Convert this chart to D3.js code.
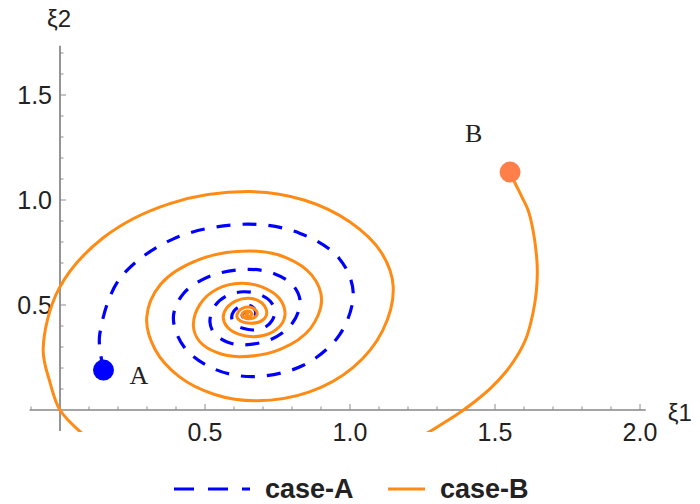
<!DOCTYPE html>
<html>
<head>
<meta charset="utf-8">
<script src="https://cdn.jsdelivr.net/npm/d3@7"></script>
<style>
  html, body { margin: 0; padding: 0; background: #fff; }
  svg { display: block; }
</style>
</head>
<body>
<svg id="chart" width="700" height="504"></svg>
<script>
// Phase-plane trajectories (ξ1, ξ2) for two initial states, both spiralling
// clockwise into the same equilibrium.

// case-A trajectory, starting at point A
const caseA = [
  [0.150, 0.190], [0.140, 0.270], [0.137, 0.360], [0.205, 0.623], [0.391, 0.815],
  [0.645, 0.885], [0.828, 0.841], [0.962, 0.723], [1.011, 0.560], [0.965, 0.360],
  [0.839, 0.213], [0.667, 0.159], [0.529, 0.197], [0.428, 0.300], [0.391, 0.440],
  [0.426, 0.555], [0.520, 0.639], [0.650, 0.670], [0.739, 0.649], [0.804, 0.593],
  [0.828, 0.515], [0.801, 0.413], [0.729, 0.337], [0.630, 0.310], [0.574, 0.325],
  [0.532, 0.365], [0.517, 0.420], [0.532, 0.492], [0.575, 0.544], [0.632, 0.563],
  [0.687, 0.551], [0.726, 0.517], [0.741, 0.470], [0.731, 0.426], [0.706, 0.393],
  [0.670, 0.381], [0.631, 0.389], [0.602, 0.410], [0.592, 0.440], [0.599, 0.470],
  [0.618, 0.492], [0.644, 0.500], [0.660, 0.495], [0.671, 0.480], [0.675, 0.460],
  [0.672, 0.448], [0.662, 0.438], [0.650, 0.435], [0.639, 0.437], [0.631, 0.443],
  [0.628, 0.452], [0.633, 0.462], [0.642, 0.466]
];

// case-B trajectory, first leg: from point B down across the ξ1 axis
const caseBLeg1 = [
  [1.552, 1.133], [1.569, 1.081], [1.593, 1.014], [1.614, 0.952], [1.631, 0.857],
  [1.643, 0.738], [1.646, 0.657], [1.642, 0.557], [1.631, 0.462], [1.609, 0.348],
  [1.576, 0.257], [1.534, 0.176], [1.486, 0.105], [1.434, 0.044], [1.383, -0.008],
  [1.328, -0.057], [1.272, -0.105], [1.217, -0.148]
];

// case-B trajectory, second leg: re-entering near the origin and spiralling in
const caseBLeg2 = [
  [0.075, -0.110], [0.000, 0.000], [-0.034, 0.129], [-0.058, 0.290], [-0.004, 0.577],
  [0.149, 0.820], [0.379, 0.983], [0.650, 1.040], [0.841, 1.000], [1.000, 0.895],
  [1.108, 0.750], [1.149, 0.587], [1.113, 0.379], [1.011, 0.203], [0.858, 0.085],
  [0.678, 0.044], [0.533, 0.074], [0.410, 0.160], [0.328, 0.288], [0.299, 0.440],
  [0.347, 0.599], [0.477, 0.715], [0.655, 0.757], [0.779, 0.726], [0.869, 0.641],
  [0.902, 0.524], [0.864, 0.389], [0.761, 0.290], [0.620, 0.254], [0.540, 0.274],
  [0.481, 0.327], [0.460, 0.400], [0.482, 0.502], [0.542, 0.576], [0.625, 0.603],
  [0.700, 0.584], [0.756, 0.532], [0.776, 0.460], [0.762, 0.405], [0.722, 0.364],
  [0.668, 0.349], [0.616, 0.361], [0.577, 0.395], [0.563, 0.440], [0.575, 0.486],
  [0.607, 0.520], [0.650, 0.532], [0.682, 0.522], [0.705, 0.496], [0.713, 0.460],
  [0.706, 0.437], [0.687, 0.419], [0.660, 0.413], [0.635, 0.417], [0.617, 0.429],
  [0.610, 0.445], [0.615, 0.468], [0.629, 0.484], [0.648, 0.490], [0.664, 0.486],
  [0.676, 0.474], [0.680, 0.458], [0.676, 0.447], [0.666, 0.438], [0.652, 0.435],
  [0.640, 0.437], [0.631, 0.444], [0.628, 0.452], [0.631, 0.462], [0.638, 0.469],
  [0.647, 0.472], [0.655, 0.469], [0.660, 0.463], [0.662, 0.456], [0.657, 0.449],
  [0.648, 0.447], [0.641, 0.452], [0.645, 0.459], [0.651, 0.456]
];

// initial states
const startPoints = [
  { name: "A", x: 0.150, y: 0.190, color: "#0000ff", dx: 26, dy: 14 },
  { name: "B", x: 1.552, y: 1.133, color: "#ff7f4a", dx: -45, dy: -30 }
];

// axis ticks
const xMajorTicks = [0.5, 1.0, 1.5, 2.0];
const yMajorTicks = [0.5, 1.0, 1.5];
const xMinorTicks = [-0.1, 0.1, 0.2, 0.3, 0.4, 0.6, 0.7, 0.8, 0.9, 1.1, 1.2, 1.3, 1.4, 1.6, 1.7, 1.8, 1.9];
const yMinorTicks = [0.1, 0.2, 0.3, 0.4, 0.6, 0.7, 0.8, 0.9, 1.1, 1.2, 1.3, 1.4, 1.6, 1.7];
const xExtent = [-0.105, 2.02];
const yExtent = [-0.1, 1.735];

const legendItems = [
  { label: "case-A", color: "#0000ff" },
  { label: "case-B", color: "#ff8a14" }
];

const svg = d3.select("#chart");
const x = d3.scaleLinear().domain([0, 2]).range([60, 640]);
const y = d3.scaleLinear().domain([0, 1.5]).range([410, 95]);
const fmt = d3.format(".1f");

const blue = "#0000ff", orange = "#ff8a14";
const sans = "Liberation Sans, Arial, sans-serif";

// clip trajectories to the plot range
svg.append("clipPath").attr("id", "plotclip")
  .append("rect")
  .attr("x", x(xExtent[0]) - 20).attr("y", y(yExtent[1]))
  .attr("width", x(xExtent[1]) - x(xExtent[0]) + 40)
  .attr("height", y(yExtent[0]) - y(yExtent[1]) + 1);

// axes
const axes = svg.append("g");
axes.append("line")
  .attr("x1", x(xExtent[0])).attr("x2", x(xExtent[1]))
  .attr("y1", y(0)).attr("y2", y(0))
  .attr("stroke", "#4d4d4d").attr("stroke-width", 1.2);
axes.append("line")
  .attr("x1", x(0)).attr("x2", x(0))
  .attr("y1", y(yExtent[0])).attr("y2", y(yExtent[1]))
  .attr("stroke", "#4d4d4d").attr("stroke-width", 1.2);

// x ticks (pointing up into the plot)
axes.selectAll(".xmin").data(xMinorTicks).join("line")
  .attr("x1", d => x(d)).attr("x2", d => x(d))
  .attr("y1", y(0)).attr("y2", y(0) - 3.5)
  .attr("stroke", "#8c8c8c").attr("stroke-width", 1);
axes.selectAll(".xmaj").data(xMajorTicks).join("line")
  .attr("x1", d => x(d)).attr("x2", d => x(d))
  .attr("y1", y(0)).attr("y2", y(0) - 6)
  .attr("stroke", "#8c8c8c").attr("stroke-width", 1);
axes.selectAll(".xlab").data(xMajorTicks).join("text")
  .attr("x", d => x(d)).attr("y", y(0) + 31)
  .attr("text-anchor", "middle")
  .attr("font-family", sans).attr("font-size", 25).attr("fill", "#222")
  .text(d => fmt(d));

// y ticks (pointing right into the plot)
axes.selectAll(".ymin").data(yMinorTicks).join("line")
  .attr("x1", x(0)).attr("x2", x(0) + 3.5)
  .attr("y1", d => y(d)).attr("y2", d => y(d))
  .attr("stroke", "#8c8c8c").attr("stroke-width", 1);
axes.selectAll(".ymaj").data(yMajorTicks).join("line")
  .attr("x1", x(0)).attr("x2", x(0) + 6)
  .attr("y1", d => y(d)).attr("y2", d => y(d))
  .attr("stroke", "#8c8c8c").attr("stroke-width", 1);
axes.selectAll(".ylab").data(yMajorTicks).join("text")
  .attr("x", x(0) - 8).attr("y", d => y(d) + 9)
  .attr("text-anchor", "end")
  .attr("font-family", sans).attr("font-size", 25).attr("fill", "#222")
  .text(d => fmt(d));

// axis labels
axes.append("text")
  .attr("x", x(0) - 1).attr("y", 27)
  .attr("text-anchor", "middle")
  .attr("font-family", sans).attr("font-size", 24).attr("fill", "#222")
  .text("ξ2");
axes.append("text")
  .attr("x", x(xExtent[1]) + 22).attr("y", y(0) + 11)
  .attr("text-anchor", "start")
  .attr("font-family", sans).attr("font-size", 24).attr("fill", "#222")
  .text("ξ1");

// trajectories
const line = d3.line()
  .x(d => x(d[0])).y(d => y(d[1]))
  .curve(d3.curveCatmullRom.alpha(0.5));

const plot = svg.append("g").attr("clip-path", "url(#plotclip)");
plot.append("path").datum(caseA)
  .attr("d", line).attr("fill", "none")
  .attr("stroke", blue).attr("stroke-width", 3.2)
  .attr("stroke-dasharray", "14,12");
[caseBLeg1, caseBLeg2].forEach(seg => {
  plot.append("path").datum(seg)
    .attr("d", line).attr("fill", "none")
    .attr("stroke", orange).attr("stroke-width", 3)
    .attr("stroke-linejoin", "round");
});

// initial-state markers and labels
svg.selectAll(".start").data(startPoints).join("circle")
  .attr("cx", d => x(d.x)).attr("cy", d => y(d.y)).attr("r", 10.5)
  .attr("fill", d => d.color);
svg.selectAll(".startlab").data(startPoints).join("text")
  .attr("x", d => x(d.x) + d.dx)
  .attr("y", d => y(d.y) + d.dy)
  .attr("font-family", "Liberation Serif, Times New Roman, serif")
  .attr("font-size", 26).attr("fill", "#222")
  .text(d => d.name);

// legend
const legend = svg.append("g");
const legendY = 489;
legend.append("line")
  .attr("x1", 174).attr("x2", 250).attr("y1", legendY).attr("y2", legendY)
  .attr("stroke", legendItems[0].color).attr("stroke-width", 3)
  .attr("stroke-dasharray", "20,14");
legend.append("text")
  .attr("x", 265).attr("y", legendY + 9)
  .attr("font-family", sans).attr("font-weight", "bold")
  .attr("font-size", 27).attr("fill", "#222")
  .text(legendItems[0].label);
legend.append("line")
  .attr("x1", 388).attr("x2", 425).attr("y1", legendY).attr("y2", legendY)
  .attr("stroke", legendItems[1].color).attr("stroke-width", 3);
legend.append("text")
  .attr("x", 440).attr("y", legendY + 9)
  .attr("font-family", sans).attr("font-weight", "bold")
  .attr("font-size", 27).attr("fill", "#222")
  .text(legendItems[1].label);
</script>
</body>
</html>
